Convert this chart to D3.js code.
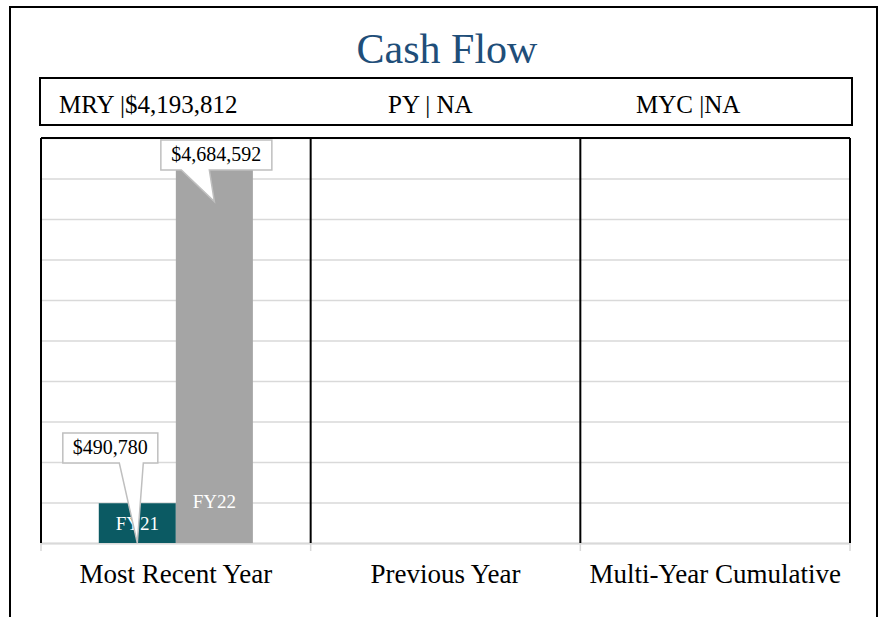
<!DOCTYPE html>
<html lang="en">
<head>
	<meta charset="UTF-8">
	<title>Cash Flow</title>
	<script src="https://cdn.jsdelivr.net/npm/d3@7"></script>
	<style type="text/css">
		body { margin: 0; background: #fff; }
		text { font-family: "Liberation Serif", "Times New Roman", serif; }
		.grid line { stroke: #d9d9d9; stroke-width: 1.5; }
		.frame { stroke: #000; stroke-width: 2; fill: none; }
	</style>
</head>
<body>
<script type="text/javascript">
	// data
	var title = 'Cash Flow';
	var panels = ['Most Recent Year', 'Previous Year', 'Multi-Year Cumulative'];
	var summaries = ['MRY |$4,193,812', 'PY | NA', 'MYC |NA'];
	var years = ['FY21', 'FY22'];
	var values = [490780, 4684592];
	var valueLabels = ['$490,780', '$4,684,592'];
	var barColors = ['#0b5a63', '#a5a5a5'];

	window.onload = function () {
		var W = 884, H = 617;
		var svg = d3.select('body').append('svg')
			.attr('width', W)
			.attr('height', H);

		// outer border (bottom runs off the page)
		svg.append('path')
			.attr('class', 'frame')
			.attr('d', 'M10,' + (H + 5) + 'V7H877V' + (H + 5));

		svg.append('text')
			.attr('x', 447)
			.attr('y', 63)
			.attr('text-anchor', 'middle')
			.style('font-size', '42px')
			.style('fill', '#1f4e79')
			.text(title);

		// summary box
		svg.append('rect')
			.attr('class', 'frame')
			.attr('x', 40).attr('y', 78)
			.attr('width', 812).attr('height', 47);

		var sumX = [59, 388, 636];
		svg.selectAll('.summary')
			.data(summaries)
			.enter().append('text')
			.attr('class', 'summary')
			.attr('x', function (d, i) { return sumX[i]; })
			.attr('y', 113)
			.style('font-size', '25px')
			.text(function (d) { return d; });

		var margin = {top: 138, left: 41, right: 34, bottom: 74};
		var width = W - margin.left - margin.right;
		var height = H - margin.top - margin.bottom;

		var g = svg.append('g')
			.attr('transform', 'translate(' + margin.left + ',' + margin.top + ')');

		var x = d3.scaleBand()
			.domain(panels)
			.range([0, width]);

		var xi = d3.scaleBand()
			.domain(years)
			.range([0, x.bandwidth()])
			.paddingInner(0)
			.paddingOuter(0.75);

		var y = d3.scaleLinear()
			.domain([0, 5000000])
			.range([height, 0]);

		// gridlines
		g.append('g')
			.attr('class', 'grid')
			.call(d3.axisLeft(y).ticks(10).tickSize(-width).tickFormat(''))
			.call(function (s) { s.select('.domain').remove(); });

		// bottom axis
		var xAxis = g.append('g')
			.attr('transform', 'translate(0,' + height + ')')
			.call(d3.axisBottom(x).tickValues([]).tickSizeOuter(0));
		xAxis.select('.domain').attr('stroke', '#d9d9d9').attr('stroke-width', 2);

		var bounds = [0].concat(panels.map(function (p) { return x(p) + x.bandwidth(); }));
		xAxis.selectAll('.sep')
			.data(bounds)
			.enter().append('line')
			.attr('class', 'sep')
			.attr('x1', function (d) { return d; })
			.attr('x2', function (d) { return d; })
			.attr('y1', 0).attr('y2', 8)
			.attr('stroke', '#d9d9d9').attr('stroke-width', 1.5);

		xAxis.selectAll('.plabel')
			.data(panels)
			.enter().append('text')
			.attr('class', 'plabel')
			.attr('x', function (d) { return x(d) + x.bandwidth() / 2; })
			.attr('y', 40)
			.attr('text-anchor', 'middle')
			.style('font-size', '27px')
			.style('fill', '#000')
			.text(function (d) { return d; });

		// bars (only the first panel has data)
		var bars = g.append('g').attr('transform', 'translate(' + x(panels[0]) + ',0)');

		bars.selectAll('.bar')
			.data(values)
			.enter().append('rect')
			.attr('class', 'bar')
			.attr('x', function (d, i) { return xi(years[i]); })
			.attr('width', xi.bandwidth())
			.attr('y', function (d) { return y(d); })
			.attr('height', function (d) { return height - y(d); })
			.style('fill', function (d, i) { return barColors[i]; });

		var yearY = [height - 13, height - 35];
		bars.selectAll('.year')
			.data(years)
			.enter().append('text')
			.attr('class', 'year')
			.attr('x', function (d) { return xi(d) + xi.bandwidth() / 2; })
			.attr('y', function (d, i) { return yearY[i]; })
			.attr('text-anchor', 'middle')
			.style('font-size', '19px')
			.style('fill', '#fff')
			.text(function (d) { return d; });

		// frame lines over the plot
		g.append('line').attr('class', 'frame')
			.attr('x1', 0).attr('x2', width).attr('y1', 0).attr('y2', 0);
		g.selectAll('.vline')
			.data(bounds)
			.enter().append('line')
			.attr('class', 'frame vline')
			.attr('x1', function (d) { return d; })
			.attr('x2', function (d) { return d; })
			.attr('y1', 0).attr('y2', height);

		// callouts: tip point and box offset
		var callouts = [
			{tipY: y(0), boxDx: -27, boxW: 95, boxTop: y(0) - 110, notch: [-18, 4]},
			{tipY: y(values[1]) + 38, boxDx: 2, boxW: 111, boxTop: 2, notch: [-33, -5]}
		];

		var co = bars.selectAll('.callout')
			.data(callouts)
			.enter().append('g')
			.attr('class', 'callout');

		co.append('path')
			.attr('d', function (c, i) {
				var tx = xi(years[i]) + xi.bandwidth() / 2;
				var cx = tx + c.boxDx;
				var l = cx - c.boxW / 2, r = cx + c.boxW / 2;
				var t = c.boxTop, b = c.boxTop + 30;
				var n0 = tx + c.notch[0], n1 = tx + c.notch[0] + 24 + (i ? 4 : 0);
				return 'M' + l + ',' + t + 'H' + r + 'V' + b + 'H' + n1 +
					'L' + tx + ',' + c.tipY + 'L' + n0 + ',' + b + 'H' + l + 'Z';
			})
			.style('fill', '#fff')
			.style('stroke', '#bfbfbf')
			.style('stroke-width', 1.5);

		co.append('text')
			.attr('x', function (c, i) { return xi(years[i]) + xi.bandwidth() / 2 + c.boxDx; })
			.attr('y', function (c) { return c.boxTop + 21; })
			.attr('text-anchor', 'middle')
			.style('font-size', '20px')
			.text(function (c, i) { return valueLabels[i]; });
	};
</script>
</body>
</html>
